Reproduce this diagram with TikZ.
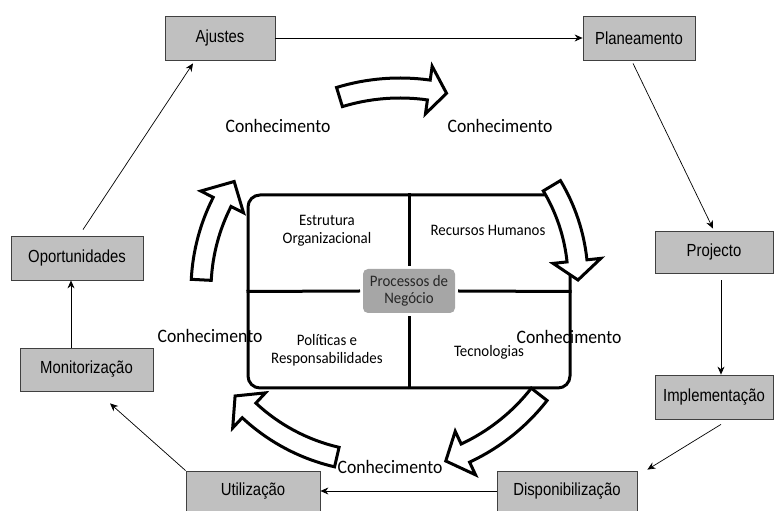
\documentclass[tikz,border=0pt]{standalone}
\usepackage{fontspec}
\usetikzlibrary{calc,arrows.meta}
\setmainfont{Carlito}
\newfontfamily\boxfont[FakeStretch=0.85]{Liberation Sans}
\newfontfamily\knowfont[FakeStretch=0.93]{Carlito}
\definecolor{boxgray}{RGB}{192,192,192}
\definecolor{procgray}{RGB}{166,166,166}

% curved block arrow: centre, radius, tail angle, head base angle, tip angle
\newcommand{\knowarrow}[5]{%
  \pgfmathsetmacro{\rout}{#2+10}\pgfmathsetmacro{\rin}{#2-10}%
  \pgfmathsetmacro{\hout}{#2+24}\pgfmathsetmacro{\hin}{#2-24}%
  \draw[blockarrow] ($(#1)+(#3:\rout)$) arc[start angle=#3, end angle=#4, radius=\rout]
    -- ($(#1)+(#4:\hout)$) -- ($(#1)+(#5:#2)$) -- ($(#1)+(#4:\hin)$)
    -- ($(#1)+(#4:\rin)$) arc[start angle=#4, end angle=#3, radius=\rin] -- cycle;}

\begin{document}
\begin{tikzpicture}[x=1pt,y=1pt]

% definitions
\tikzstyle{stage} = [rectangle, draw=black!75, fill=boxgray, line width=0.8pt, inner sep=0pt, font=\boxfont\fontsize{17.5}{20}\selectfont]

\tikzstyle{arrow} = [->, >={Stealth[length=8pt,width=7pt]}, line width=0.7pt]

\tikzstyle{knowledge} = [font=\knowfont\fontsize{19}{22}\selectfont]

\tikzstyle{area} = [align=center, font=\knowfont\fontsize{16}{18}\selectfont]

\tikzstyle{blockarrow} = [draw=black, fill=white, line width=3pt]

\tikzstyle{divider} = [line width=3pt]

\useasboundingbox (0,0) rectangle (774,511);

% the cycle
\node (ajustes) [stage, minimum width=110pt, minimum height=44pt] at (220,473) {Ajustes};

\node (planeamento) [stage, minimum width=112pt, minimum height=44pt] at (639,473) {Planeamento};

\node (projecto) [stage, minimum width=118pt, minimum height=42pt] at (714,259) {Projecto};

\node (implementacao) [stage, minimum width=118pt, minimum height=44pt] at (714,114) {Implementação};

\node (disponibilizacao) [stage, minimum width=140pt, minimum height=40pt] at (567,20) {Disponibilização};

\node (utilizacao) [stage, minimum width=134pt, minimum height=40pt] at (253,20) {Utilização};

\node (monitorizacao) [stage, minimum width=133pt, minimum height=43pt] at (86.5,141.5) {Monitorização};

\node (oportunidades) [stage, minimum width=132pt, minimum height=44pt] at (77,253) {Oportunidades};

\draw [arrow] (ajustes) -- (planeamento);
\draw [arrow] ([xshift=-6pt,yshift=-3pt]planeamento.south) -- ([xshift=-1pt,yshift=2pt]projecto.north);
\draw [arrow] ([xshift=7pt,yshift=-7pt]projecto.south) -- ([xshift=7pt]implementacao.north);
\draw [arrow] ([xshift=7pt,yshift=-5pt]implementacao.south) -- ([xshift=10pt,yshift=1pt]disponibilizacao.north east);
\draw [arrow] (disponibilizacao) -- (utilizacao);
\draw [arrow] (utilizacao.north west) -- ([xshift=23.5pt,yshift=-12pt]monitorizacao.south);
\draw [arrow] ([xshift=-15.5pt]monitorizacao.north) -- ([xshift=-6pt]oportunidades.south);
\draw [arrow] ([xshift=6pt,yshift=6pt]oportunidades.north) -- ([xshift=-27pt,yshift=-3pt]ajustes.south);

% the organisation
\node (core) [rectangle, draw, line width=3pt, rounded corners=12pt, minimum width=322pt, minimum height=193pt] at (409,219.5) {};

\node (proc) [fill=procgray, rounded corners=5pt, minimum width=92pt, minimum height=44pt, outer sep=3pt, align=center, text=black!85, font=\knowfont\fontsize{16}{17}\selectfont] at (409,220) {Processos de\\Negócio};

\draw [divider] (core.north) -- (proc.north);
\draw [divider] (core.south) -- (proc.south);
\draw [divider] (core.west) -- (proc.west);
\draw [divider] (core.east) -- (proc.east);

\coordinate (ringA) at (400,216);
\coordinate (ringB) at (395,231);
\coordinate (ringC) at (395,221);
\coordinate (ringD) at (380,241);

\knowarrow{ringA}{207}{107}{82}{77}
\knowarrow{ringB}{183}{31}{6}{0}
\knowarrow{ringC}{194}{177}{153}{146}
\knowarrow{ringD}{192}{257}{227}{221}
\knowarrow{ringD}{202}{322}{295}{289}

\node (estrutura) [area] at (327,280) {Estrutura\\Organizacional};
\node (recursos) [area] at (488,281) {Recursos Humanos};
\node (politicas) [area] at (327,161) {Políticas e\\Responsabilidades};
\node (tecnologias) [area] at (489,159) {Tecnologias};

\node (know1) [knowledge] at (278,385) {Conhecimento};
\node (know2) [knowledge] at (500,385) {Conhecimento};
\node (know3) [knowledge] at (210,175) {Conhecimento};
\node (know4) [knowledge] at (569,174) {Conhecimento};
\node (know5) [knowledge] at (390,44) {Conhecimento};

\end{tikzpicture}
\end{document}
